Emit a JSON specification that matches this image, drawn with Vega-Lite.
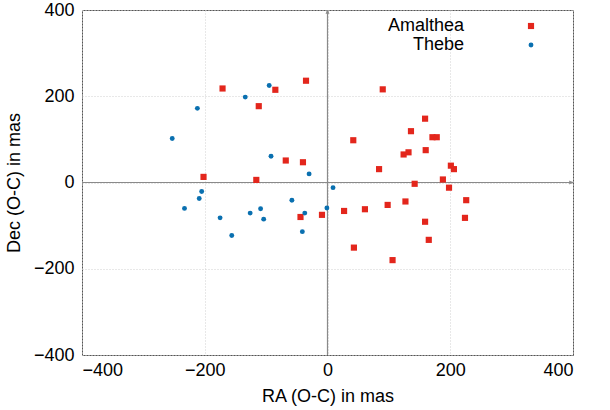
{
  "$schema": "https://vega.github.io/schema/vega-lite/v6.json",
  "width": 491,
  "height": 345,
  "autosize": {"type": "none"},
  "padding": {"left": 82, "top": 10, "right": 37, "bottom": 55},
  "background": "white",
  "config": {
    "font": "Liberation Sans",
    "view": {"stroke": "#555555", "strokeWidth": 1},
    "axis": {
      "labelFontSize": 18,
      "labelColor": "#000000",
      "titleFontSize": 18,
      "titleFontWeight": "normal",
      "titleColor": "#000000",
      "domain": false,
      "ticks": false,
      "gridColor": "#d0d0d0",
      "gridDash": [1, 2],
      "gridWidth": 1
    }
  },
  "datasets": {
    "pts": [
      {"body": "Amalthea", "ra": -171, "dec": 218},
      {"body": "Amalthea", "ra": -112, "dec": 177},
      {"body": "Amalthea", "ra": -85, "dec": 215},
      {"body": "Amalthea", "ra": -35, "dec": 236},
      {"body": "Amalthea", "ra": 90, "dec": 216},
      {"body": "Amalthea", "ra": -202, "dec": 13},
      {"body": "Amalthea", "ra": -116, "dec": 6},
      {"body": "Amalthea", "ra": -68, "dec": 51},
      {"body": "Amalthea", "ra": -40, "dec": 47},
      {"body": "Amalthea", "ra": -44, "dec": -80},
      {"body": "Amalthea", "ra": -9, "dec": -75},
      {"body": "Amalthea", "ra": 27, "dec": -66},
      {"body": "Amalthea", "ra": 61, "dec": -62},
      {"body": "Amalthea", "ra": 42, "dec": 98},
      {"body": "Amalthea", "ra": 43, "dec": -151},
      {"body": "Amalthea", "ra": 84, "dec": 31},
      {"body": "Amalthea", "ra": 98, "dec": -52},
      {"body": "Amalthea", "ra": 106, "dec": -180},
      {"body": "Amalthea", "ra": 127, "dec": -44},
      {"body": "Amalthea", "ra": 124, "dec": 65},
      {"body": "Amalthea", "ra": 132, "dec": 70},
      {"body": "Amalthea", "ra": 136, "dec": 119},
      {"body": "Amalthea", "ra": 142, "dec": -3},
      {"body": "Amalthea", "ra": 159, "dec": 148},
      {"body": "Amalthea", "ra": 160, "dec": 75},
      {"body": "Amalthea", "ra": 159, "dec": -91},
      {"body": "Amalthea", "ra": 165, "dec": -133},
      {"body": "Amalthea", "ra": 171, "dec": 105},
      {"body": "Amalthea", "ra": 178, "dec": 105},
      {"body": "Amalthea", "ra": 188, "dec": 7},
      {"body": "Amalthea", "ra": 201, "dec": 39},
      {"body": "Amalthea", "ra": 206, "dec": 31},
      {"body": "Amalthea", "ra": 198, "dec": -12},
      {"body": "Amalthea", "ra": 226, "dec": -41},
      {"body": "Amalthea", "ra": 224, "dec": -82},
      {"body": "Thebe", "ra": -253, "dec": 102},
      {"body": "Thebe", "ra": -212, "dec": 172},
      {"body": "Thebe", "ra": -134, "dec": 198},
      {"body": "Thebe", "ra": -95, "dec": 225},
      {"body": "Thebe", "ra": -92, "dec": 61},
      {"body": "Thebe", "ra": -30, "dec": 20},
      {"body": "Thebe", "ra": 9, "dec": -12},
      {"body": "Thebe", "ra": -205, "dec": -21},
      {"body": "Thebe", "ra": -209, "dec": -37},
      {"body": "Thebe", "ra": -233, "dec": -60},
      {"body": "Thebe", "ra": -175, "dec": -82},
      {"body": "Thebe", "ra": -156, "dec": -123},
      {"body": "Thebe", "ra": -126, "dec": -71},
      {"body": "Thebe", "ra": -109, "dec": -61},
      {"body": "Thebe", "ra": -104, "dec": -85},
      {"body": "Thebe", "ra": -58, "dec": -41},
      {"body": "Thebe", "ra": -37, "dec": -71},
      {"body": "Thebe", "ra": -41, "dec": -114},
      {"body": "Thebe", "ra": -1, "dec": -59}
    ]
  },
  "encoding": {
    "x": {
      "type": "quantitative",
      "scale": {"domain": [-400, 400], "nice": false},
      "axis": {"values": [-400, -200, 0, 200, 400], "title": "RA (O-C) in mas", "labelPadding": 6, "titlePadding": 8}
    },
    "y": {
      "type": "quantitative",
      "scale": {"domain": [-400, 400], "nice": false},
      "axis": {"values": [-400, -200, 0, 200, 400], "title": "Dec (O-C) in mas", "labelPadding": 8, "titlePadding": 10}
    }
  },
  "layer": [
    {
      "data": {"values": [{"z": 0}]},
      "mark": {"type": "rule", "color": "#8a8a8a", "strokeWidth": 1.2},
      "encoding": {"x": {"field": "z", "type": "quantitative"}}
    },
    {
      "data": {"values": [{"z": 0}]},
      "mark": {"type": "rule", "color": "#8a8a8a", "strokeWidth": 1.2},
      "encoding": {"y": {"field": "z", "type": "quantitative"}}
    },
    {
      "data": {"values": [{"ax": 400, "ay": 0}]},
      "mark": {"type": "point", "shape": "M-2,-0.7L0,0L-2,0.7", "size": 16, "filled": false, "stroke": "#8a8a8a", "strokeWidth": 1, "opacity": 1},
      "encoding": {"x": {"field": "ax", "type": "quantitative"}, "y": {"field": "ay", "type": "quantitative"}}
    },
    {
      "data": {"values": [{"ax": 0, "ay": 400}]},
      "mark": {"type": "point", "shape": "M-0.7,2L0,0L0.7,2", "size": 16, "filled": false, "stroke": "#8a8a8a", "strokeWidth": 1, "opacity": 1},
      "encoding": {"x": {"field": "ax", "type": "quantitative"}, "y": {"field": "ay", "type": "quantitative"}}
    },
    {
      "data": {"name": "pts"},
      "mark": {"type": "point", "filled": true, "opacity": 1},
      "encoding": {
        "x": {"field": "ra", "type": "quantitative"},
        "y": {"field": "dec", "type": "quantitative"},
        "color": {
          "field": "body", "type": "nominal",
          "scale": {"domain": ["Amalthea", "Thebe"], "range": ["#e3261c", "#0a70b0"]},
          "legend": {
            "title": null, "orient": "none", "legendX": 440, "legendY": 7,
            "labelFontSize": 18, "labelColor": "#000000", "labelAlign": "right",
            "labelOffset": -76, "rowPadding": 1, "padding": 0
          }
        },
        "shape": {
          "field": "body", "type": "nominal",
          "scale": {"domain": ["Amalthea", "Thebe"], "range": ["square", "circle"]}
        },
        "size": {
          "field": "body", "type": "nominal",
          "scale": {"domain": ["Amalthea", "Thebe"], "range": [38, 24]}
        }
      }
    }
  ]
}
